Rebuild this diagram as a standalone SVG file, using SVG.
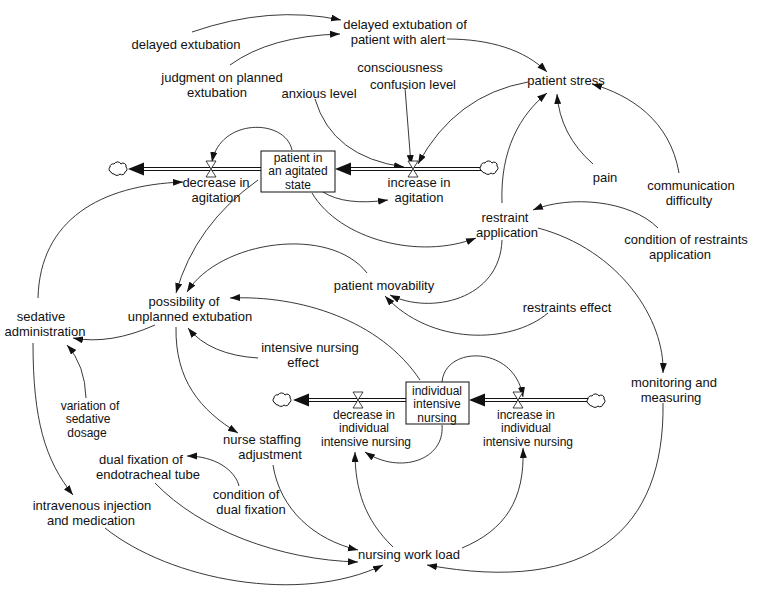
<svg xmlns="http://www.w3.org/2000/svg" xmlns:xlink="http://www.w3.org/1999/xlink" width="757" height="591" viewBox="0 0 757 591">
<style>
text{font-family:"Liberation Sans",Arial,sans-serif;font-size:13px;fill:#111;text-anchor:middle}
text.s{font-size:12px}
.link{fill:none;stroke:#222;stroke-width:0.9;marker-end:url(#ah)}
.pipeo{fill:none;stroke:#111;stroke-width:4.2}
.pipei{fill:none;stroke:#fff;stroke-width:2}
.stock{fill:#fff;stroke:#111;stroke-width:1}
.valve{fill:#fff;stroke:#111;stroke-width:0.8}
.cloud{fill:#fff;stroke:#111;stroke-width:1}
.phead{fill:#111}
</style>
<defs>
<marker id="ah" markerUnits="userSpaceOnUse" markerWidth="11" markerHeight="8" refX="10" refY="3.5" orient="auto">
<path d="M0,0 L10,3.5 L0,7 z" fill="#111"/>
</marker>
<path id="cloudp" class="cloud" d="M-8,3 a3,3 0 0 1 -1,-5 a3,3 0 0 1 4,-3 a4,4 0 0 1 7,0 a3,3 0 0 1 5,3 a3,3 0 0 1 -1,5 a3,3 0 0 1 -5,2 a4,4 0 0 1 -6,0 a3,3 0 0 1 -3,-2 z"/>
<path id="valvep" class="valve" d="M-5,-8 L5,-8 L0,0 Z M0,0 L-5,8 L5,8 Z"/>
</defs>

<g id="connectors">
<path class="link" d="M192,32 Q270,5 341,20"/>
<path class="link" d="M230,65 Q270,36 340,34"/>
<path class="link" d="M447,39 C490,39 525,50 547,72"/>
<path class="link" d="M315,99 Q332,157 404,167"/>
<path class="link" d="M405,88 L411,165"/>
<path class="link" d="M528,82 Q455,95 418,164"/>
<path class="link" d="M292,150 C285,118 220,118 212,162"/>
<path class="link" d="M323,192 Q345,206 388,200"/>
<path class="link" d="M258,180 Q195,225 176,293"/>
<path class="link" d="M312,193 C340,240 420,260 476,238"/>
<path class="link" d="M38,298 C40,220 100,185 183,182"/>
<path class="link" d="M33,343 C33,420 45,460 73,495"/>
<path class="link" d="M155,325 Q110,345 73,338"/>
<path class="link" d="M86,398 Q85,365 67,345"/>
<path class="link" d="M367,273 C330,225 220,240 187,292"/>
<path class="link" d="M420,380 C380,320 300,295 230,298"/>
<path class="link" d="M258,358 Q210,355 188,328"/>
<path class="link" d="M176,327 C175,380 200,410 238,433"/>
<path class="link" d="M502,203 C500,150 520,115 547,93"/>
<path class="link" d="M593,164 Q560,135 557,94"/>
<path class="link" d="M679,173 C670,120 630,95 592,84"/>
<path class="link" d="M658,228 C630,200 570,195 533,210"/>
<path class="link" d="M502,240 C500,300 430,315 390,295"/>
<path class="link" d="M548,313 C510,345 430,345 385,296"/>
<path class="link" d="M538,228 C620,250 665,320 663,373"/>
<path class="link" d="M663,403 C665,530 590,595 427,565"/>
<path class="link" d="M462,548 C505,530 525,500 523,448"/>
<path class="link" d="M393,547 C365,520 355,490 355,452"/>
<path class="link" d="M442,382 C445,345 515,345 523,397"/>
<path class="link" d="M442,425 C445,460 400,475 365,452"/>
<path class="link" d="M273,465 C280,510 315,540 358,550"/>
<path class="link" d="M155,483 C200,530 280,560 358,562"/>
<path class="link" d="M105,528 C170,580 300,605 383,565"/>
<path class="link" d="M239,486 C235,470 215,456 187,456"/>
</g>

<g id="flow-decrease-in-agitation">
<path class="pipeo" d="M261,169 L143,169"/><path class="pipei" d="M261,169 L143,169"/>
<polygon class="phead" points="128,169 144,162.5 144,175.5"/>
<use xlink:href="#cloudp" x="119" y="169"/>
<use xlink:href="#valvep" x="211" y="169"/>
<text x="216" y="187">decrease in</text>
<text x="216" y="202">agitation</text>
</g>

<g id="flow-increase-in-agitation">
<path class="pipeo" d="M481,169 L351,169"/><path class="pipei" d="M481,169 L351,169"/>
<polygon class="phead" points="335,169 351,162.5 351,175.5"/>
<use xlink:href="#cloudp" x="490" y="168"/>
<use xlink:href="#valvep" x="413" y="169"/>
<text x="419" y="187">increase in</text>
<text x="419" y="202">agitation</text>
</g>

<g id="stock-patient-agitated">
<rect class="stock" x="261" y="151" width="74" height="41"/>
<text class="s" x="298" y="161.5">patient in</text>
<text class="s" x="298" y="175">an agitated</text>
<text class="s" x="298" y="188.5">state</text>
</g>

<g id="flow-decrease-individual">
<path class="pipeo" d="M406,400 L308,400"/><path class="pipei" d="M406,400 L308,400"/>
<polygon class="phead" points="293,400 309,393.5 309,406.5"/>
<use xlink:href="#cloudp" x="283" y="400"/>
<use xlink:href="#valvep" x="358" y="400"/>
<text class="s" x="364" y="418.5">decrease in</text>
<text class="s" x="364" y="432">individual</text>
<text class="s" x="366" y="445.5">intensive nursing</text>
</g>

<g id="flow-increase-individual">
<path class="pipeo" d="M588,400 L485,400"/><path class="pipei" d="M588,400 L485,400"/>
<polygon class="phead" points="469,400 485,393.5 485,406.5"/>
<use xlink:href="#cloudp" x="597" y="401"/>
<use xlink:href="#valvep" x="518" y="400"/>
<text class="s" x="526" y="418.5">increase in</text>
<text class="s" x="526" y="432">individual</text>
<text class="s" x="528" y="445.5">intensive nursing</text>
</g>

<g id="stock-individual-intensive-nursing">
<rect class="stock" x="406" y="382" width="63" height="42"/>
<text class="s" x="437" y="394.5">individual</text>
<text class="s" x="437" y="408">intensive</text>
<text class="s" x="437" y="421.5">nursing</text>
</g>

<g id="delayed-extubation-alert"><text x="405" y="29">delayed extubation of</text><text x="398" y="44">patient with alert</text></g>
<g id="delayed-extubation"><text x="186" y="49">delayed extubation</text></g>
<g id="judgment"><text x="222" y="82">judgment on planned</text><text x="217" y="97">extubation</text></g>
<g id="anxious-level"><text x="319" y="98">anxious level</text></g>
<g id="consciousness"><text x="400" y="72">consciousness</text><text x="413" y="89">confusion level</text></g>
<g id="patient-stress"><text x="566" y="85">patient stress</text></g>
<g id="pain"><text x="605" y="182">pain</text></g>
<g id="communication-difficulty"><text x="691" y="190">communication</text><text x="689" y="205">difficulty</text></g>
<g id="restraint-application"><text x="505" y="222">restraint</text><text x="507" y="237">application</text></g>
<g id="condition-restraints"><text x="686" y="244">condition of restraints</text><text x="680" y="259">application</text></g>
<g id="patient-movability"><text x="384" y="290">patient movability</text></g>
<g id="restraints-effect"><text x="567" y="312">restraints effect</text></g>
<g id="possibility"><text x="184" y="306">possibility of</text><text x="190" y="321">unplanned extubation</text></g>
<g id="sedative-administration"><text x="41" y="321">sedative</text><text x="45" y="336">administration</text></g>
<g id="intensive-nursing-effect"><text x="310" y="352">intensive nursing</text><text x="303" y="367">effect</text></g>
<g id="monitoring"><text x="674" y="387">monitoring and</text><text x="671" y="402">measuring</text></g>
<g id="variation-sedative"><text class="s" x="90" y="409.5">variation of</text><text class="s" x="88" y="423">sedative</text><text class="s" x="87" y="436.5">dosage</text></g>
<g id="nurse-staffing"><text x="262" y="444">nurse staffing</text><text x="270" y="459">adjustment</text></g>
<g id="dual-fixation"><text x="141" y="464">dual fixation of</text><text x="148" y="479">endotracheal tube</text></g>
<g id="condition-dual-fixation"><text x="246" y="499">condition of</text><text x="251" y="514">dual fixation</text></g>
<g id="intravenous"><text x="92" y="510">intravenous injection</text><text x="91" y="525">and medication</text></g>
<g id="nursing-work-load"><text x="409" y="559">nursing work load</text></g>
</svg>
